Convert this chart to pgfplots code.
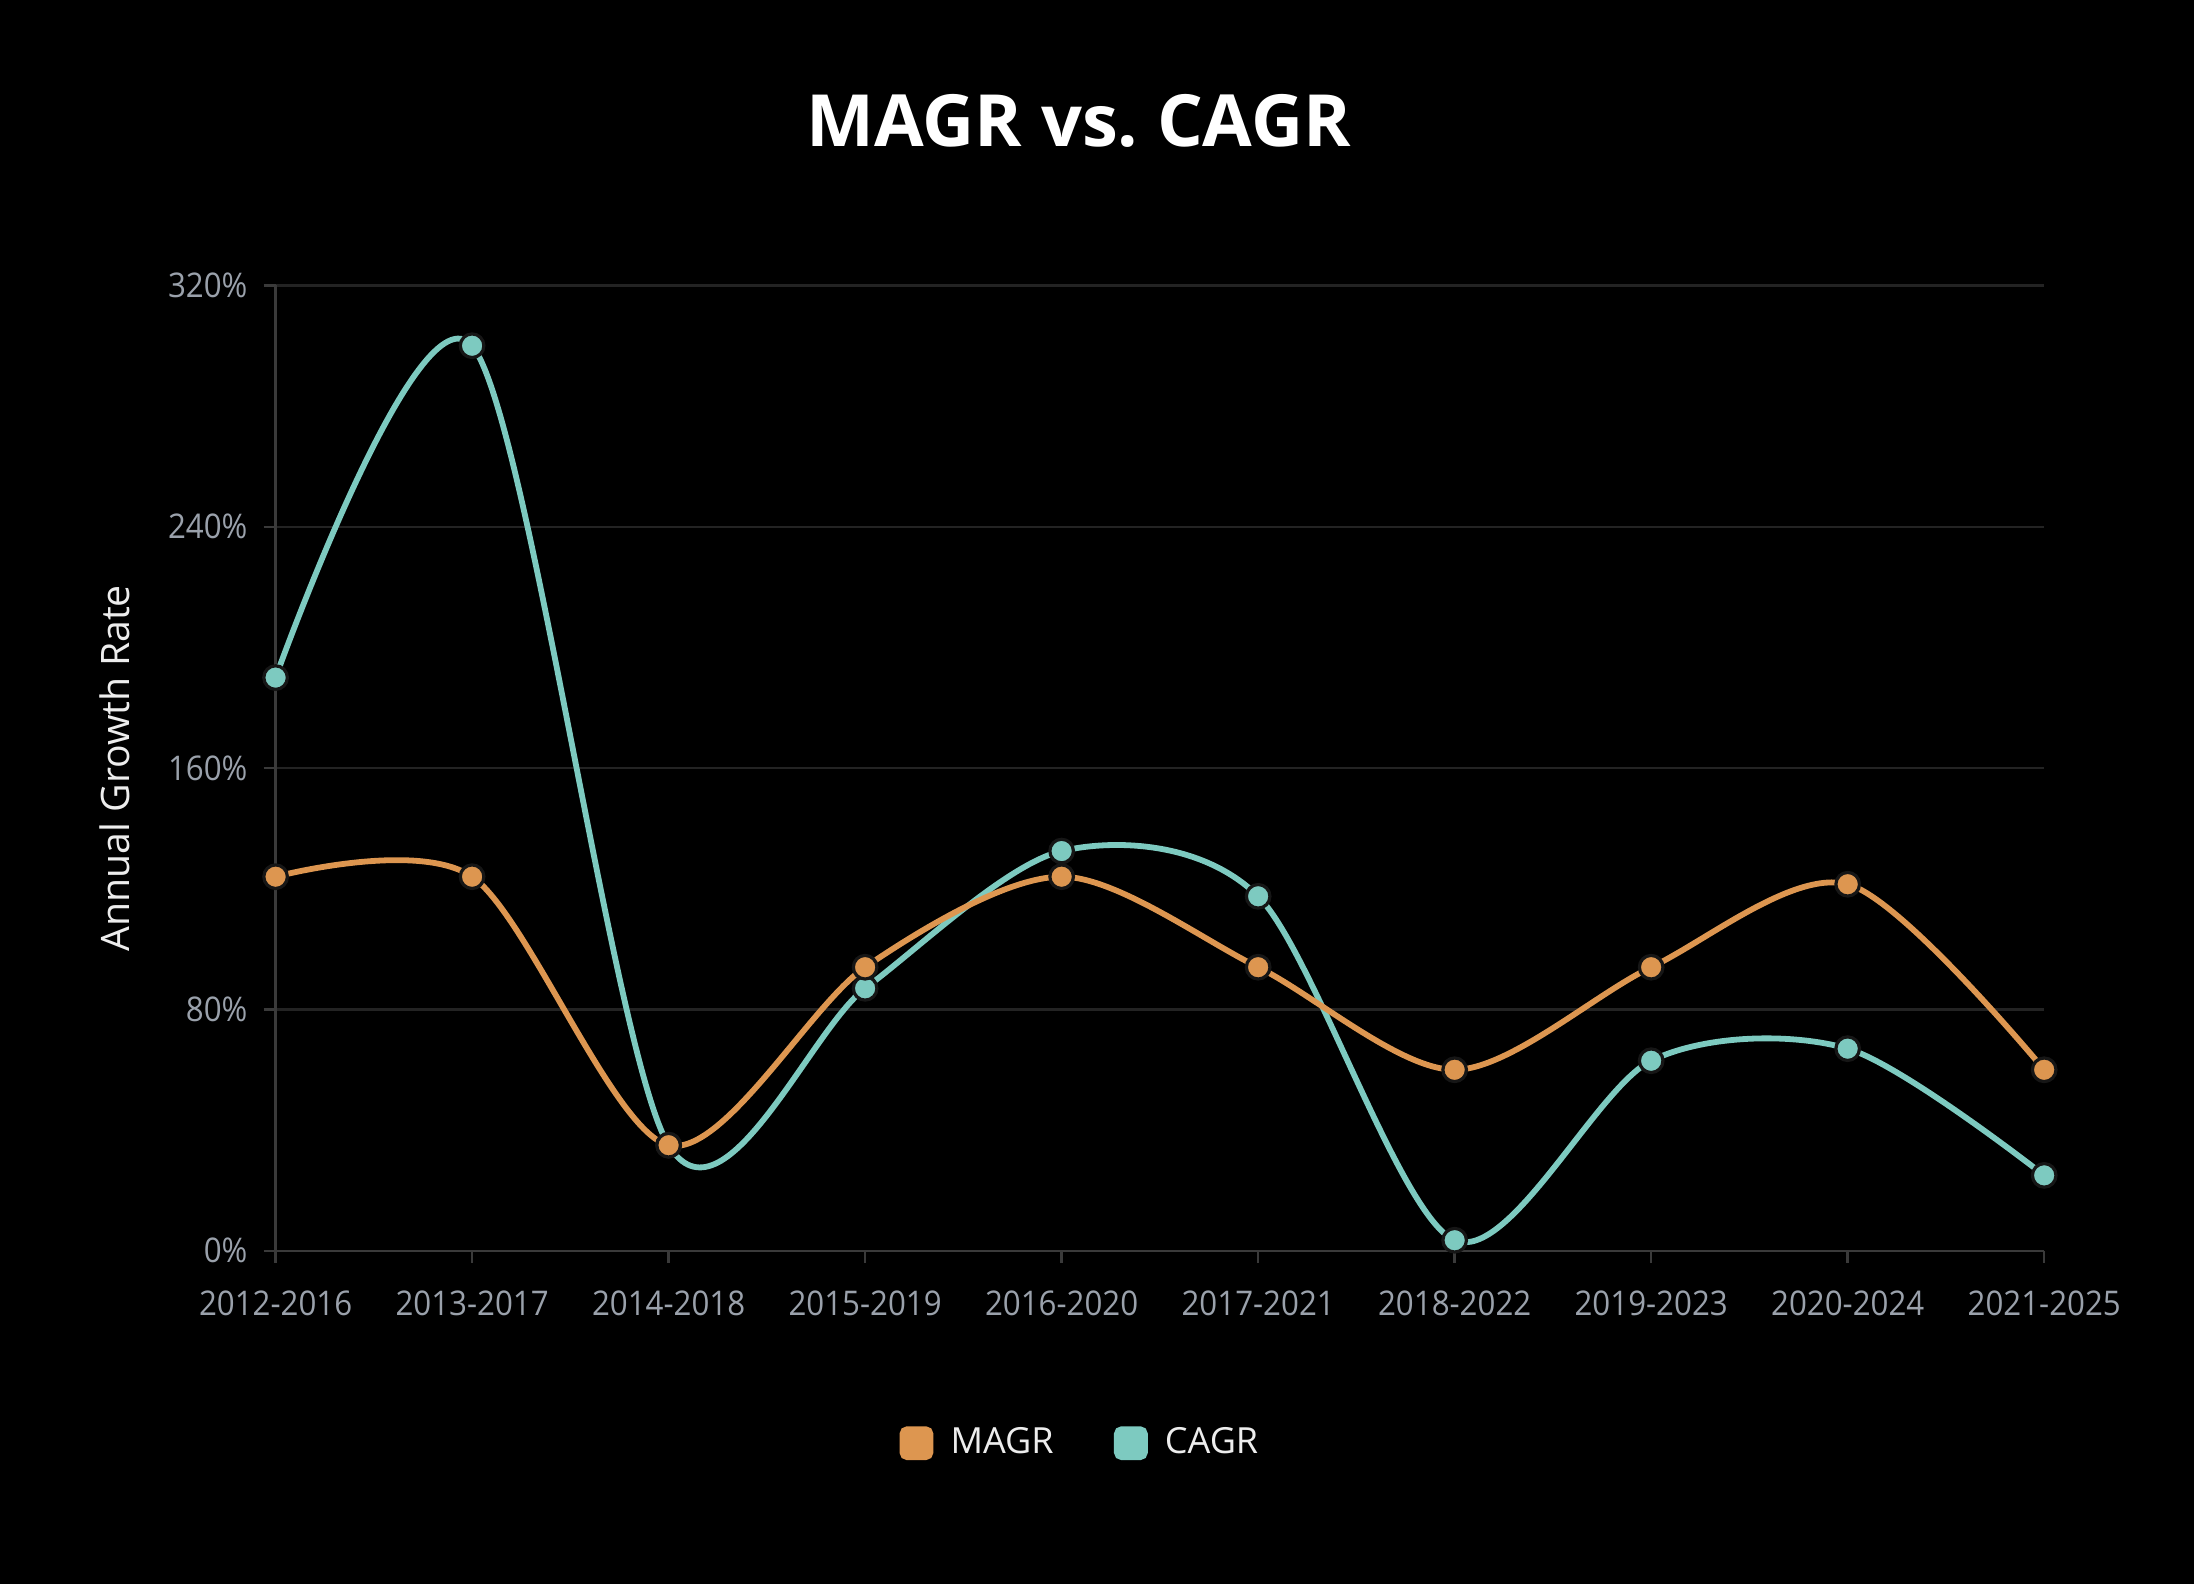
\documentclass[border=0pt]{standalone}
\usepackage{pgfplots}
\pgfplotsset{compat=1.18}
\usepackage{fontspec}
\setmainfont{Open Sans}
\newfontfamily\tickfont[FakeStretch=0.92]{Open Sans}
\definecolor{magr}{HTML}{DD9650}
\definecolor{cagr}{HTML}{7DCAC0}
\definecolor{ticktext}{HTML}{9AA1AB}
\definecolor{gridc}{HTML}{232323}
\definecolor{axisc}{HTML}{3A3A3A}
\definecolor{markb}{HTML}{161616}
\definecolor{labtext}{HTML}{EDEDED}
\begin{document}
\begin{tikzpicture}
\fill[black] (0,0) rectangle (548.5pt,396pt);
\begin{axis}[
  at={(68.9pt,83.3pt)}, anchor=south west,
  scale only axis, width=442.15pt, height=241.35pt,
  xmin=0, xmax=9, ymin=0, ymax=320,
  axis x line*=bottom, axis y line*=left,
  axis line style={axisc, line width=0.6pt},
  xtick={0,1,2,3,4,5,6,7,8,9},
  xticklabels={2012-2016,2013-2017,2014-2018,2015-2019,2016-2020,2017-2021,2018-2022,2019-2023,2020-2024,2021-2025},
  ytick={0,80,160,240,320},
  yticklabels={0\%,80\%,160\%,240\%,320\%},
  tick align=outside, major tick length=3pt,
  tick style={axisc, line width=0.6pt},
  ymajorgrids, grid style={gridc, line width=0.6pt},
  ticklabel style={font=\tickfont\fontsize{8.5}{10}\selectfont, text=ticktext},
  xticklabel style={yshift=-3.5pt},
  yticklabel style={xshift=-0.5pt},
  ylabel={Annual Growth Rate},
  ylabel style={at={(axis description cs:-0.0909,0.5)}, anchor=center, font=\fontsize{9.8}{12}\selectfont, text=labtext},
  clip=false,
  legend columns=2, reverse legend, legend cell align=left,
  legend style={at={(axis description cs:0.3528,-0.1993)}, anchor=west, draw=none, fill=none, inner sep=0pt, outer sep=0pt, font=\fontsize{9}{11}\selectfont, text=labtext, nodes={inner sep=0pt}, /tikz/every odd column/.append style={column sep=4.3pt}, /tikz/every even column/.append style={column sep=15.1pt}},
]
\addplot[cagr, line width=1.45pt, smooth, mark=*, mark size=2.95pt, mark options={draw=markb, fill=cagr, line width=0.8pt},
  legend image code/.code={\fill[cagr, rounded corners=1.2pt] (0pt,-3.5pt) rectangle (7pt,3.5pt);}]
  coordinates {(0,190) (1,300) (2,35) (3,87) (4,132.5) (5,117.5) (6,3.5) (7,63) (8,67) (9,25)};
\addlegendentry{CAGR}
\addplot[magr, line width=1.45pt, smooth, mark=*, mark size=2.95pt, mark options={draw=markb, fill=magr, line width=0.8pt},
  legend image code/.code={\fill[magr, rounded corners=1.2pt] (0pt,-3.5pt) rectangle (7pt,3.5pt);}]
  coordinates {(0,124) (1,124) (2,35) (3,94) (4,124) (5,94) (6,60) (7,94) (8,121.5) (9,60)};
\addlegendentry{MAGR}
\end{axis}
\node[font=\bfseries\fontsize{18}{22}\selectfont, text=white, anchor=base] at (269.7pt,359.25pt) {MAGR vs.\ CAGR};
\pgfresetboundingbox
\path (0,0) rectangle (548.5pt,396pt);
\end{tikzpicture}
\end{document}
